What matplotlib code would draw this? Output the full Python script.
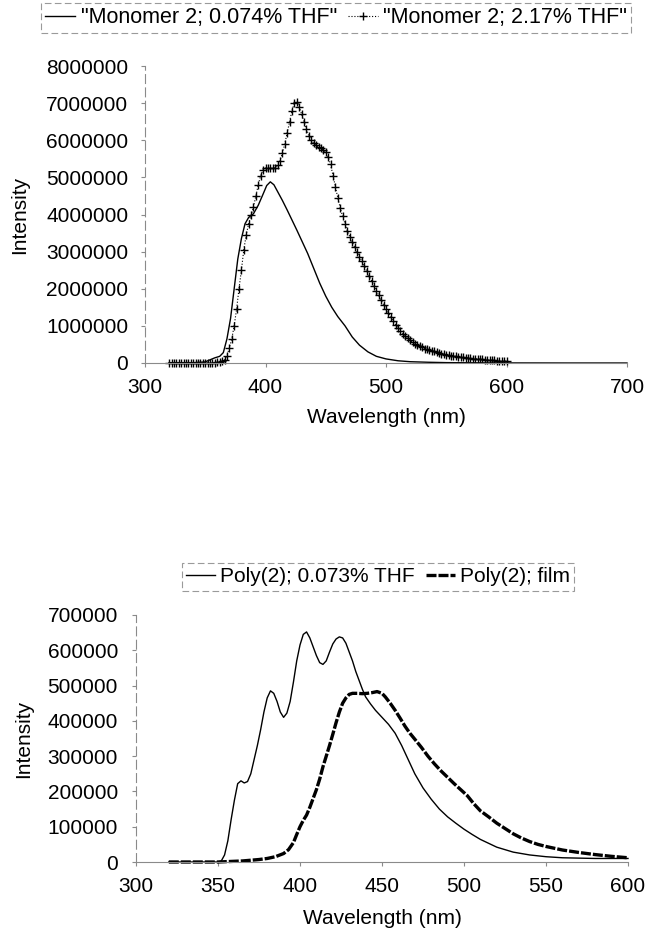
import numpy as np
import matplotlib
matplotlib.use("Agg")
from matplotlib import pyplot as plt

plt.rcParams['font.family'] = ['Liberation Sans', 'DejaVu Sans']
plt.rcParams['font.size'] = 15

# --- top panel : monomer 2 (intensity in millions) ---
mono_dil_wl = [320, 330, 340, 350, 355, 358, 362, 365, 368, 371, 374, 377, 380, 383, 386,
               390, 394, 398, 401, 404, 407, 410, 414, 418, 422, 426, 430, 435, 440, 445,
               450, 455, 460, 466, 472, 478, 485, 492, 500, 510, 520, 535, 550, 575, 600,
               650, 700]
mono_dil_I = [0.01, 0.01, 0.01, 0.03, 0.10, 0.14, 0.18, 0.28, 0.65, 1.20, 2.00, 2.80, 3.35,
              3.75, 3.92, 4.02, 4.25, 4.55, 4.78, 4.88, 4.80, 4.62, 4.38, 4.12, 3.85, 3.58,
              3.30, 2.95, 2.55, 2.15, 1.80, 1.50, 1.25, 1.00, 0.70, 0.48, 0.30, 0.18, 0.11,
              0.06, 0.035, 0.02, 0.01, 0.005, 0.002, 0.0, 0.0]

mono_conc_wl = np.arange(320, 601, 2)
mono_conc_I = [0.01, 0.01, 0.01, 0.01, 0.01, 0.01, 0.01, 0.01, 0.01, 0.01,
               0.01, 0.01, 0.01, 0.01, 0.01, 0.01, 0.01, 0.01, 0.01, 0.01,
               0.02, 0.03, 0.05, 0.08, 0.20, 0.40, 0.65, 1.00, 1.45, 2.00,
               2.50, 3.05, 3.45, 3.75, 3.98, 4.20, 4.50, 4.80, 5.05, 5.20,
               5.25, 5.25, 5.24, 5.24, 5.26, 5.32, 5.45, 5.65, 5.90, 6.20,
               6.50, 6.80, 7.00, 7.02, 6.90, 6.70, 6.50, 6.30, 6.12, 6.00,
               5.92, 5.86, 5.82, 5.78, 5.74, 5.68, 5.55, 5.35, 5.05, 4.75,
               4.45, 4.18, 3.95, 3.75, 3.55, 3.40, 3.26, 3.12, 2.99, 2.86,
               2.74, 2.61, 2.48, 2.35, 2.22, 2.08, 1.95, 1.82, 1.69, 1.57,
               1.46, 1.35, 1.24, 1.13, 1.03, 0.94, 0.86, 0.79, 0.72, 0.66,
               0.61, 0.56, 0.52, 0.48, 0.45, 0.42, 0.39, 0.37, 0.35, 0.33,
               0.31, 0.29, 0.27, 0.255, 0.24, 0.225, 0.21, 0.20, 0.19, 0.18,
               0.17, 0.16, 0.15, 0.14, 0.135, 0.13, 0.12, 0.115, 0.11, 0.10,
               0.095, 0.09, 0.085, 0.08, 0.075, 0.07, 0.065, 0.06, 0.055, 0.05,
               0.045]

# --- bottom panel : poly(2) (intensity in thousands) ---
poly_sol_wl = [320, 330, 340, 350, 352, 354, 356, 358, 360, 362, 364, 366, 368, 370, 372,
               374, 376, 378, 380, 382, 384, 386, 388, 390, 392, 394, 396, 398, 400, 402,
               404, 406, 408, 410, 412, 414, 416, 418, 420, 422, 424, 426, 428, 430, 432,
               434, 436, 438, 440, 443, 446, 450, 454, 458, 462, 466, 470, 475, 480, 485,
               490, 495, 500, 505, 510, 515, 520, 530, 540, 550, 560, 570, 580, 590, 600]
poly_sol_I = [0, 0, 0, 0, 3, 20, 60, 120, 175, 222, 230, 224, 228, 250, 290,
              330, 375, 425, 465, 485, 478, 455, 425, 410, 422, 455, 510, 570, 615, 645,
              652, 635, 610, 585, 565, 560, 570, 595, 618, 632, 638, 635, 620, 595, 570,
              540, 515, 490, 468, 448, 430, 410, 390, 365, 330, 290, 250, 210, 178, 150,
              128, 110, 93, 78, 64, 53, 42, 28, 20, 15, 12, 11, 10, 10, 10]

poly_film_wl = [320, 330, 340, 350, 355, 360, 365, 370, 375, 380, 385, 390, 393, 396, 398,
                400, 402, 404, 406, 408, 410, 412, 414, 416, 418, 420, 422, 424, 426, 428,
                430, 432, 435, 438, 441, 444, 447, 450, 452, 455, 458, 461, 464, 467, 470,
                474, 478, 482, 486, 490, 494, 498, 502, 506, 510, 515, 520, 525, 530, 535,
                540, 545, 550, 560, 570, 580, 590, 600]
poly_film_I = [0, 0, 0, 0, 1, 2, 3, 5, 7, 10, 15, 24, 35, 55, 78,
               100, 118, 133, 155, 180, 205, 235, 270, 300, 330, 362, 395, 425, 450, 465,
               475, 478, 478, 477, 478, 480, 483, 478, 468, 450, 430, 408, 385, 365, 348,
               325, 300, 278, 258, 240, 222, 205, 188, 165, 145, 128, 110, 95, 80, 68,
               58, 50, 44, 34, 27, 21, 16, 12]

top_ticks_x = [300, 400, 500, 600, 700]
top_ticks_y = [0, 1000000, 2000000, 3000000, 4000000, 5000000, 6000000, 7000000, 8000000]
bot_ticks_x = [300, 350, 400, 450, 500, 550, 600]
bot_ticks_y = [0, 100000, 200000, 300000, 400000, 500000, 600000, 700000]

axis_col = '#8a8a8a'
W, H = 649, 934
fig = plt.figure(figsize=(W / 100, H / 100), dpi=100)


def style_axes(ax, ypad, xlab_y, ylab_x):
    for s in ['top', 'right']:
        ax.spines[s].set_visible(False)
    ax.spines['left'].set_color(axis_col)
    ax.spines['left'].set_linewidth(0.8)
    ax.spines['left'].set_linestyle((0, (8, 4)))
    ax.spines['bottom'].set_color(axis_col)
    ax.spines['bottom'].set_linewidth(0.8)
    ax.tick_params(axis='both', direction='out', length=3, width=0.8, color=axis_col,
                   labelsize=15, labelcolor='black')
    ax.tick_params(axis='y', pad=ypad)
    ax.tick_params(axis='x', pad=8)
    ax.set_xlabel('Wavelength (nm)', fontsize=15)
    ax.set_ylabel('Intensity', fontsize=15)
    ax.xaxis.set_label_coords(0.5, xlab_y)
    ax.yaxis.set_label_coords(ylab_x, 0.5)


# top chart
ax1 = fig.add_axes([145 / W, 1 - 363 / H, 482 / W, 297 / H])
l1, = ax1.plot(mono_dil_wl, np.array(mono_dil_I) * 1e6, color='black', lw=1.0, clip_on=False)
l2, = ax1.plot(mono_conc_wl, np.array(mono_conc_I) * 1e6, color='black', lw=0.8, ls=':',
               marker='+', ms=6, mew=1.0, clip_on=False)
ax1.set_xlim(300, 700)
ax1.set_ylim(0, 8000000)
ax1.set_xticks(top_ticks_x)
ax1.set_yticks(top_ticks_y)
ax1.set_yticklabels([str(v) for v in top_ticks_y])
style_axes(ax1, 9, -0.15, -0.24)
leg1 = fig.legend([l1, l2], ['"Monomer 2; 0.074% THF"', '"Monomer 2; 2.17% THF"'],
                  loc='center', bbox_to_anchor=(336 / W, 1 - 18 / H), ncol=2,
                  fontsize=15.5, handlelength=1.4, handletextpad=0.25, columnspacing=0.5,
                  borderpad=0.2, borderaxespad=0, fancybox=False, framealpha=1)
leg1.get_frame().set_edgecolor('#9a9a9a')
leg1.get_frame().set_linewidth(0.8)
leg1.get_frame().set_linestyle((0, (6, 3)))

# bottom chart
ax2 = fig.add_axes([136 / W, 1 - 862 / H, 492 / W, 247 / H])
l3, = ax2.plot(poly_sol_wl, poly_sol_I, color='black', lw=1.0, clip_on=False)
l4, = ax2.plot(poly_film_wl, poly_film_I, color='black', lw=2.4, ls=(0, (3, 0.6)),
               clip_on=False)
ax2.set_xlim(300, 600)
ax2.set_ylim(0, 700)
ax2.set_xticks(bot_ticks_x)
ax2.set_yticks([v / 1000 for v in bot_ticks_y])
ax2.set_yticklabels([str(v) for v in bot_ticks_y])
style_axes(ax2, 10, -0.19, -0.21)
leg2 = fig.legend([l3, l4], ['Poly(2); 0.073% THF', 'Poly(2); film'],
                  loc='center', bbox_to_anchor=(378 / W, 1 - 577 / H), ncol=2,
                  fontsize=15, handlelength=1.4, handletextpad=0.25, columnspacing=0.5,
                  borderpad=0.2, borderaxespad=0, fancybox=False, framealpha=1)
leg2.get_frame().set_edgecolor('#9a9a9a')
leg2.get_frame().set_linewidth(0.8)
leg2.get_frame().set_linestyle((0, (6, 3)))

fig.savefig('out.png', dpi=100)
